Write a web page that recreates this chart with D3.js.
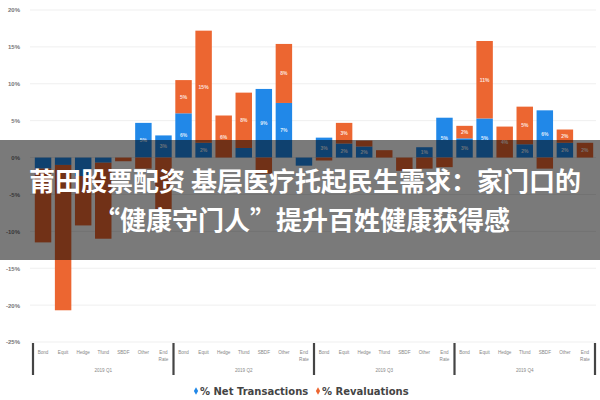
<!DOCTYPE html>
<html>
<head>
<meta charset="utf-8">
<script src="https://cdn.jsdelivr.net/npm/d3@7/dist/d3.min.js"></script>
<style>
html,body{margin:0;padding:0;background:#fff;}
svg{display:block;}
</style>
</head>
<body>
<svg id="chart" width="600" height="400"></svg>
<script>
const groups = ["2019 Q1","2019 Q2","2019 Q3","2019 Q4"];
const categories = ["Bond","Equit","Hedge","Tfund","SBDF","Other","End Rate"];
const netTransactions = [-1.5,-1,-2.5,-0.7,0,4.7,3, 6,2,0,1.3,9.3,7.4,-1.1, 2.7,1.9,1.5,0,0,1.4,5.4, 2.6,5.3,0,1.8,6.4,2,0];
const revaluations = [-10,-19.7,-6.7,-10.3,-0.5,-1.5,-7, 4.5,15.2,5.7,7.5,-2.2,8,0, -0.4,2.8,0.8,1,-1.8,-1.5,-1.3, 1.7,10.5,4.2,5.1,-1.5,1.8,2];
const yTicks = [20,15,10,5,0,-5,-10,-15,-20,-25];
const seriesNames = ["% Net Transactions","% Revaluations"];
const titleLines = ["莆田股票配资 基层医疗托起民生需求：家门口的","“健康守门人”提升百姓健康获得感"];

const colors = {"net":"#2188e8","rev":"#ec6631"};
const svg = d3.select("#chart");

const rows = [];
groups.forEach((g,gi)=>categories.forEach((c,ci)=>{
  const i = gi*categories.length+ci;
  rows.push({key:g+"|"+c, group:g, cat:c, net:netTransactions[i], rev:revaluations[i]});
}));

const x = d3.scaleBand().domain(rows.map(d=>d.key)).range([33,595]).paddingInner(0.18).paddingOuter(0.09);
const y = d3.scaleLinear().domain([-25,20]).range([342,10]);

// gridlines
svg.append("g").selectAll("line").data(yTicks).join("line")
  .attr("x1",30).attr("x2",596)
  .attr("y1",d=>y(d)).attr("y2",d=>y(d))
  .attr("stroke","#efefef").attr("stroke-width",1);

// y labels
const yAxis = d3.axisLeft(y).tickValues(yTicks).tickSize(0).tickFormat(d=>d+"%");
const ya = svg.append("g").attr("transform","translate(23,0)").call(yAxis);
ya.select(".domain").remove();
ya.selectAll("text").attr("fill","#777").attr("font-size",6).attr("font-family","Liberation Sans, Arial, sans-serif").attr("font-weight","bold");

// stacked bars
const stack = d3.stack().keys(["net","rev"]).offset(d3.stackOffsetDiverging);
const series = stack(rows);
const bars = svg.append("g");
series.forEach(s=>{
  bars.append("g").attr("fill",colors[s.key])
    .selectAll("rect").data(s).join("rect")
    .attr("x",d=>x(d.data.key))
    .attr("width",x.bandwidth())
    .attr("y",d=>y(Math.max(d[0],d[1])))
    .attr("height",d=>Math.abs(y(d[0])-y(d[1])));
  const labelled = s.filter(d=>{
    const ly = y((d[0]+d[1])/2);
    return Math.abs(d[1]-d[0])>=1.4 && (ly<159 || ly>238);
  });
  bars.append("g").selectAll("text").data(labelled).join("text")
    .attr("x",d=>x(d.data.key)+x.bandwidth()/2)
    .attr("y",d=>y((d[0]+d[1])/2)+2)
    .attr("text-anchor","middle")
    .attr("fill","#fff").attr("fill-opacity",0.85)
    .attr("font-size",5).attr("font-weight","bold")
    .attr("font-family","Liberation Sans, Arial, sans-serif")
    .text(d=>Math.round(d.data[s.key])+"%");
});

// x axis category labels
const xa = svg.append("g").attr("font-family","Liberation Sans, Arial, sans-serif").attr("font-size",4.6).attr("fill","#888");
rows.forEach(d=>{
  const cx = x(d.key)+x.bandwidth()/2;
  const parts = d.cat.split(" ");
  parts.forEach((p,pi)=>{
    xa.append("text").attr("x",cx).attr("y",354+pi*7).attr("text-anchor","middle").text(p);
  });
});
// group labels and separators
const step = x.step();
groups.forEach((g,gi)=>{
  const first = x(g+"|"+categories[0]);
  const last = x(g+"|"+categories[categories.length-1]);
  const cx = (first+last+x.bandwidth())/2;
  xa.append("text").attr("x",cx).attr("y",372).attr("text-anchor","middle").text(g);
});
const seps = groups.map(g=>x(g+"|"+categories[0]) - (step-x.bandwidth())/2);
seps.push(x(groups[groups.length-1]+"|"+categories[categories.length-1])+x.bandwidth()+(step-x.bandwidth())/2);
svg.append("g").selectAll("line").data(seps).join("line")
  .attr("x1",d=>d).attr("x2",d=>d).attr("y1",343).attr("y2",375)
  .attr("stroke","#444").attr("stroke-width",2.2);

// legend
const lg = svg.append("g").attr("font-family","DejaVu Sans, sans-serif").attr("font-size",10).attr("font-weight","bold").attr("fill","#444");
const legendX = [196, 318];
seriesNames.forEach((n,i)=>{
  const c = i===0?colors.net:colors.rev;
  lg.append("path").attr("d",d3.symbol(d3.symbolDiamond,16)()).attr("transform",`translate(${legendX[i]},391)`).attr("fill",c);
  lg.append("text").attr("x",legendX[i]+4).attr("y",395).text(n);
});

// overlay banner with title
svg.append("rect").attr("x",0).attr("y",140).attr("width",600).attr("height",120).attr("fill","rgba(0,0,0,0.52)");
const tt = svg.append("g").attr("font-family","Noto Sans CJK SC").attr("font-weight","bold").attr("font-size",26).attr("fill","#fff").attr("text-anchor","middle");
tt.append("text").attr("x",305).attr("y",191).text(titleLines[0]);
tt.append("text").attr("x",302).attr("y",230).text(titleLines[1]);
</script>
</body>
</html>
